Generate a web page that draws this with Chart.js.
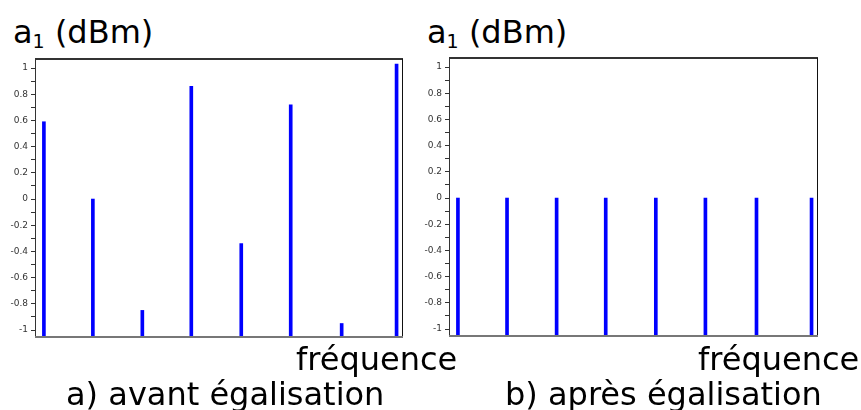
<!DOCTYPE html>
<html>
<head>
<meta charset="utf-8">
<script src="https://cdn.jsdelivr.net/npm/chart.js@4"></script>
<style>
  body { margin: 0; background: #fff; }
  #page { position: relative; width: 861px; height: 410px; overflow: hidden; font-family: "DejaVu Sans", sans-serif; color: #000; }
  canvas { position: absolute; }
  .txt { position: absolute; white-space: nowrap; line-height: 1em; font-size: 32px; }
  .titre sub { font-size: 19px; vertical-align: -5px; line-height: 0; }
</style>
</head>
<body>
<div id="page">
  <div class="txt titre" style="left:13px; top:16px;">a<sub>1</sub> (dBm)</div>
  <div class="txt titre" style="left:427px; top:16px;">a<sub>1</sub> (dBm)</div>
  <canvas id="avant" style="left:0; top:50px;" width="406" height="300"></canvas>
  <canvas id="apres" style="left:414px; top:49px;" width="407" height="300"></canvas>
  <div class="txt" style="left:296px; top:343px;">fréquence</div>
  <div class="txt" style="left:698px; top:343px;">fréquence</div>
  <div class="txt" style="left:66px; top:378px;">a) avant égalisation</div>
  <div class="txt" style="left:505px; top:378px;">b) après égalisation</div>
</div>
<script>
// positions des raies (axe des fréquences, unités arbitraires)
const frequences = [0.18, 1.17, 2.17, 3.16, 4.17, 5.17, 6.2, 7.31];
// amplitudes (dBm)
const avantEgalisation = [0.59, 0.0, -0.85, 0.86, -0.34, 0.72, -0.95, 1.03];
const apresEgalisation = [0, 0, 0, 0, 0, 0, 0, 0];
const yMin = -1.053, yMax = 1.069;

// cadre autour de la zone de tracé
const cadre = {
    id: 'cadre',
    afterDraw(chart) {
        const { ctx, chartArea: a } = chart;
        ctx.save();
        ctx.strokeStyle = '#333';
        ctx.lineWidth = 2;
        ctx.beginPath(); ctx.moveTo(a.left, a.top); ctx.lineTo(a.right, a.top); ctx.stroke();
        ctx.lineWidth = 1;
        ctx.beginPath(); ctx.moveTo(a.left + 0.5, a.top); ctx.lineTo(a.left + 0.5, a.bottom); ctx.stroke();
        ctx.strokeStyle = '#111';
        ctx.beginPath(); ctx.moveTo(a.right - 0.5, a.top); ctx.lineTo(a.right - 0.5, a.bottom); ctx.stroke();
        ctx.strokeStyle = '#777';
        ctx.lineWidth = 2;
        ctx.beginPath(); ctx.moveTo(a.left, a.bottom); ctx.lineTo(a.right, a.bottom); ctx.stroke();
        ctx.restore();
    }
};

function spectre(id, valeurs) {
    new Chart(document.getElementById(id), {
        type: 'bar',
        data: {
            datasets: [{
                data: frequences.map((f, i) => ({ x: f, y: valeurs[i] })),
                backgroundColor: '#0000ff',
                borderWidth: 0,
                barThickness: 3,
                base: yMin
            }]
        },
        options: {
            responsive: false,
            animation: false,
            layout: { padding: { top: 9, right: 3, bottom: 13, left: 0 } },
            plugins: { legend: { display: false }, tooltip: { enabled: false } },
            scales: {
                x: { type: 'linear', min: 0, max: 7.44, offset: false, display: false },
                y: {
                    min: yMin,
                    max: yMax,
                    afterFit: s => { s.width = 35; },
                    border: { display: false },
                    grid: { drawOnChartArea: false, drawTicks: true, tickLength: 4, tickColor: '#333' },
                    ticks: {
                        stepSize: 0.1,
                        includeBounds: false,
                        autoSkip: false,
                        padding: 3,
                        color: '#333',
                        font: { family: 'DejaVu Sans', size: 9 },
                        callback: v => {
                            const n = Math.round(v * 10);
                            if (n % 2 !== 0) return '';
                            return n === 0 ? '0' : String(n / 10);
                        }
                    }
                }
            }
        },
        plugins: [cadre]
    });
}

spectre('avant', avantEgalisation);
spectre('apres', apresEgalisation);
</script>
</body>
</html>
